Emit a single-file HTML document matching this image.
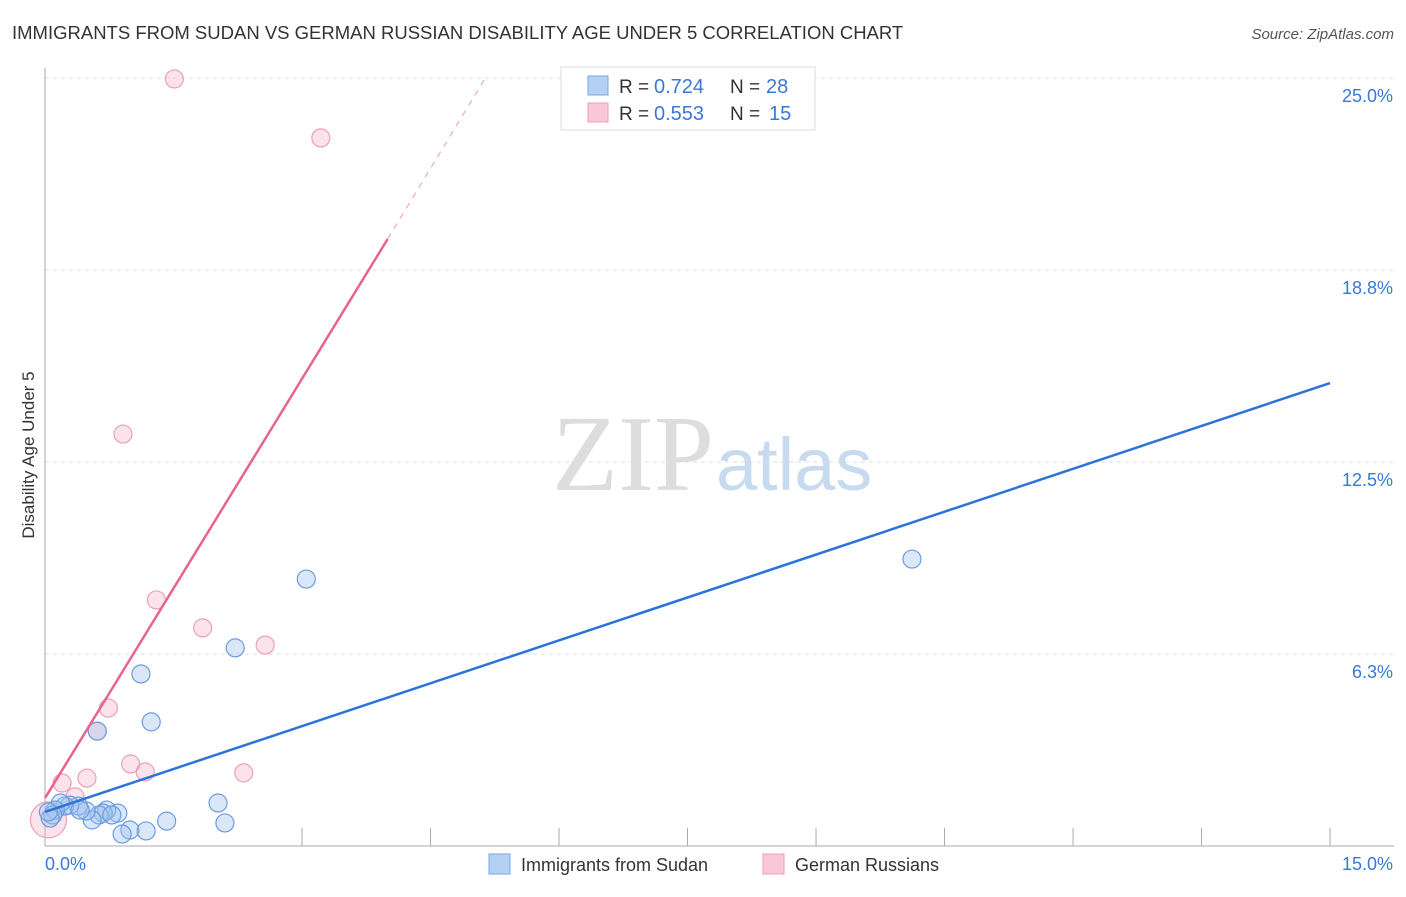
<!DOCTYPE html>
<html><head><meta charset="utf-8"><style>
body{margin:0;background:#fff;font-family:"Liberation Sans",sans-serif}
</style></head><body>
<svg id="c" width="1406" height="892" xmlns="http://www.w3.org/2000/svg">
<text x="12" y="39" font-size="18.5" fill="#333">IMMIGRANTS FROM SUDAN VS GERMAN RUSSIAN DISABILITY AGE UNDER 5 CORRELATION CHART</text>
<text x="1394" y="39" font-size="15" fill="#555" font-style="italic" text-anchor="end">Source: ZipAtlas.com</text>
<text x="714" y="490" font-size="108" fill="#ddd" text-anchor="end" font-family="Liberation Serif,serif">ZIP</text>
<text x="716" y="490" font-size="74" fill="#c8daf0">atlas</text>
<text transform="translate(34,455) rotate(-90)" font-size="17" fill="#333" text-anchor="middle">Disability Age Under 5</text>
<g id="grid"></g><g id="pts"></g><g id="lines"></g>
<g>
<rect x="561" y="67" width="254" height="63" fill="#fff" stroke="#ddd"/>
<rect x="588" y="76" width="20" height="19" fill="#b3d0f5" stroke="#7aa7e0"/>
<rect x="588" y="103" width="20" height="19" fill="#f9c7d6" stroke="#eba0b8"/>
<text x="619" y="93" font-size="19" fill="#333">R = </text><text x="654" y="93" font-size="20" fill="#3a78d8">0.724</text>
<text x="730" y="93" font-size="19" fill="#333">N = </text><text x="766" y="93" font-size="20" fill="#3a78d8">28</text>
<text x="619" y="120" font-size="19" fill="#333">R = </text><text x="654" y="120" font-size="20" fill="#3a78d8">0.553</text>
<text x="730" y="120" font-size="19" fill="#333">N = </text><text x="769" y="120" font-size="20" fill="#3a78d8">15</text>
</g>
<g>
<rect x="489" y="854" width="21" height="20" fill="#b3d0f5" stroke="#7aa7e0"/>
<text x="521" y="871" font-size="18" fill="#333">Immigrants from Sudan</text>
<rect x="763" y="854" width="21" height="20" fill="#f9c7d6" stroke="#eba0b8"/>
<text x="795" y="871" font-size="18" fill="#333">German Russians</text>
</g>
</svg>
<script>
const yTicks=[25,18.75,12.5,6.25];
const yTickLabels=["25.0%","18.8%","12.5%","6.3%"];
const xTicks=[3,4.5,6,7.5,9,10.5,12,13.5,15];
const sudanX=[10.12,3.05,2.22,1.12,1.24,0.61,2.02,2.10,1.42,1.18,0.99,0.90,0.85,0.72,0.68,0.63,0.55,0.48,0.39,0.29,0.23,0.18,0.12,0.09,0.06,0.04,0.41,0.78];
const sudanY=[9.34,8.69,6.45,5.60,4.04,3.74,1.40,0.75,0.81,0.49,0.52,0.39,1.07,1.17,1.07,1.01,0.85,1.14,1.30,1.33,1.30,1.40,1.17,1.01,0.91,1.11,1.17,1.01];
const grX=[1.51,3.22,0.91,1.30,1.84,2.57,0.74,0.61,1.00,1.17,2.32,0.49,0.20,0.35,0.04];
const grY=[24.97,23.05,13.41,8.01,7.10,6.54,4.49,3.74,2.67,2.41,2.38,2.21,2.05,1.60,0.85];
const sudanLine=[[0,1.11],[15,15.07]];
const grLine=[[0,1.56],[4.0,19.76]];
const grDash=[[4.0,19.76],[5.14,25.0]];
const X=v=>45+v*85.67, Y=v=>846-v*30.72;
const NS="http://www.w3.org/2000/svg";
function mk(t,a,p){const e=document.createElementNS(NS,t);for(const k in a)e.setAttribute(k,a[k]);p.appendChild(e);return e;}
const g=document.getElementById('grid');
yTicks.forEach((t,i)=>{
 const l=mk('line',{x1:45,x2:1394,y1:Y(t),y2:Y(t),stroke:'#ddd','stroke-dasharray':'4,4'},g);
 
 
 const tx=mk('text',{x:1393,y:Y(t)+24,'font-size':18,fill:'#3a78d8','text-anchor':'end'},g);tx.textContent=yTickLabels[i];
 
 
});
mk('line',{x1:45,x2:45,y1:68,y2:846,stroke:'#aaa'},g);
mk('line',{x1:45,x2:1394,y1:846,y2:846,stroke:'#aaa'},g);
xTicks.forEach(t=>{const l=mk('line',{x1:X(t),x2:X(t),y1:828,y2:846,stroke:'#aaa'},g);
 
 });
const a=mk('text',{x:45,y:870,'font-size':18,fill:'#3a78d8'},g);a.textContent="0.0%";
const b=mk('text',{x:1393,y:870,'font-size':18,fill:'#3a78d8','text-anchor':'end'},g);b.textContent="15.0%";
const p=document.getElementById('pts');
grX.forEach((x,i)=>{const c=mk('circle',{cx:X(x),cy:Y(grY[i]),r:i==grX.length-1?18:9,fill:'rgba(245,175,198,0.35)',stroke:'#eaa0b8','stroke-width':1.2},p);
 
 });
sudanX.forEach((x,i)=>{const c=mk('circle',{cx:X(x),cy:Y(sudanY[i]),r:9,fill:'rgba(160,195,240,0.4)',stroke:'#6a9de0','stroke-width':1.2},p);
 
 });
const L=document.getElementById('lines');
function ln(d,col,w,dash,name){const e=mk('line',{x1:X(d[0][0]),y1:Y(d[0][1]),x2:X(d[1][0]),y2:Y(d[1][1]),stroke:col,'stroke-width':w},L);if(dash)e.setAttribute('stroke-dasharray',dash);
 
 }
ln(sudanLine,'#2a74d8',2.5,null,'sudan-trend-line');
ln(grLine,'#e8648e',2.5,null,'german-russian-trend-line');
ln(grDash,'#f0a8be',1.2,'6,6','german-russian-trend-extension');
</script>
</body></html>
